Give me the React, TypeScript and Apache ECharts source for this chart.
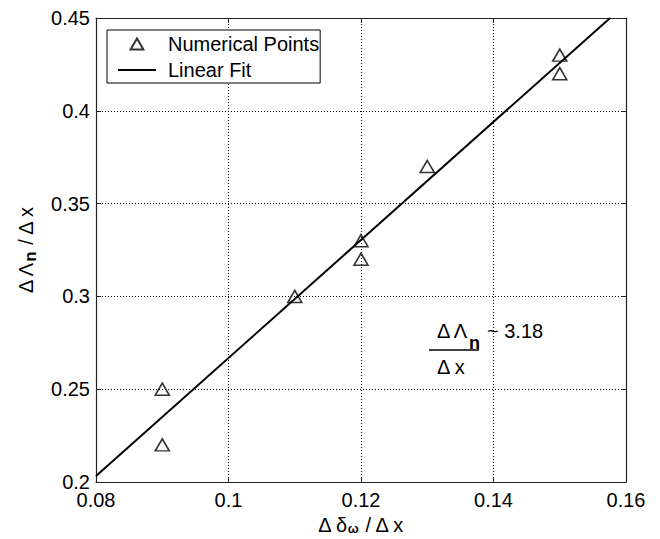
import React, { useEffect, useRef } from "react";
import * as echarts from "echarts";

const xTicks = [0.08, 0.1, 0.12, 0.14, 0.16];
const yTicks = [0.2, 0.25, 0.3, 0.35, 0.4, 0.45];
const pointsX = [0.09, 0.09, 0.11, 0.12, 0.12, 0.13, 0.15, 0.15];
const pointsY = [0.25, 0.22, 0.3, 0.33, 0.32, 0.37, 0.43, 0.42];
const fitX = [0.08, 0.1576];
const fitY = [0.2032, 0.45];
const seriesNames = ["Numerical Points", "Linear Fit"];
const slopeText = "~ 3.18";

const FONT = "Liberation Sans, Arial, Helvetica, sans-serif";
const TRI_ICON = "path://M7,0 L14,12 L0,12 Z";
const LINE_ICON = "path://M0,0 L100,0 L100,5 L0,5 Z";

export default function App() {
  const ref = useRef<HTMLDivElement>(null);
  useEffect(() => {
    document.body.style.margin = "0";
    const chart = echarts.init(ref.current!, null, { renderer: "svg" });
    const fmt = (v: number) => String(+Number(v).toFixed(2));
    const gridLine = { show: true, lineStyle: { color: "#000", width: 1, type: [1, 2] as any } };
    const axisLine = { show: true, lineStyle: { color: "#222", width: 1.2 } };
    const tick = { show: true, inside: true, length: 5, lineStyle: { color: "#222" } };
    chart.setOption({
      animation: false,
      backgroundColor: "#fff",
      textStyle: { fontFamily: FONT },
      grid: { left: 96, right: 34, top: 18, bottom: 57, outerBoundsMode: "none", containLabel: false },
      legend: {
        orient: "vertical",
        left: 107,
        top: 30,
        backgroundColor: "#fff",
        borderColor: "#000",
        borderWidth: 1,
        borderRadius: 0,
        padding: [4, 1, 3, 11],
        itemWidth: 38,
        itemHeight: 11,
        itemGap: 6,
        textStyle: { fontSize: 20, color: "#000", fontFamily: FONT, padding: [0, 0, 0, 7] },
        data: [
          { name: seriesNames[0], icon: TRI_ICON },
          { name: seriesNames[1], icon: LINE_ICON },
        ],
      },
      xAxis: [
        {
          type: "value",
          min: xTicks[0],
          max: xTicks[xTicks.length - 1],
          interval: 0.02,
          name: "Δ δ{s|ω} / Δ x",
          nameLocation: "middle",
          nameGap: 32,
          nameTextStyle: {
            fontSize: 20,
            color: "#000",
            fontFamily: FONT,
            rich: { s: { fontSize: 13, fontWeight: "bold", verticalAlign: "bottom", padding: [8, 0, 0, 0], color: "#000", fontFamily: FONT } },
          },
          axisLine,
          axisTick: tick,
          axisLabel: { fontSize: 20, color: "#000", margin: 8, formatter: fmt, fontFamily: FONT },
          splitLine: gridLine,
        },
        {
          type: "value",
          position: "top",
          min: xTicks[0],
          max: xTicks[xTicks.length - 1],
          interval: 0.02,
          axisLine,
          axisTick: tick,
          axisLabel: { show: false },
          splitLine: { show: false },
        },
      ],
      yAxis: [
        {
          type: "value",
          min: yTicks[0],
          max: yTicks[yTicks.length - 1],
          interval: 0.05,
          name: "Δ Λ{s|n} / Δ x",
          nameLocation: "middle",
          nameRotate: 90,
          nameGap: 57,
          nameTextStyle: {
            fontSize: 20,
            color: "#000",
            fontFamily: FONT,
            rich: { s: { fontSize: 17, fontWeight: "bold", verticalAlign: "bottom", padding: [10, 0, 0, 0], color: "#000", fontFamily: FONT } },
          },
          axisLine,
          axisTick: tick,
          axisLabel: { fontSize: 20, color: "#000", margin: 6, formatter: fmt, fontFamily: FONT },
          splitLine: gridLine,
        },
        {
          type: "value",
          position: "right",
          min: yTicks[0],
          max: yTicks[yTicks.length - 1],
          interval: 0.05,
          axisLine,
          axisTick: tick,
          axisLabel: { show: false },
          splitLine: { show: false },
        },
      ],
      series: [
        {
          name: seriesNames[0],
          type: "scatter",
          symbol: "triangle",
          symbolSize: [14, 12],
          itemStyle: { color: "rgba(255,255,255,0)", borderColor: "#000", borderWidth: 1.6 },
          data: pointsX.map((x, i) => [x, pointsY[i]]),
          z: 3,
        },
        {
          name: seriesNames[1],
          type: "line",
          symbol: "none",
          lineStyle: { color: "#000", width: 2 },
          itemStyle: { color: "#000" },
          data: fitX.map((x, i) => [x, fitY[i]]),
          z: 2,
        },
      ],
      graphic: [
        {
          type: "text",
          left: 437,
          top: 321,
          style: { text: "Δ Λ", fontSize: 20, fill: "#000", fontFamily: FONT },
        },
        {
          type: "text",
          left: 469,
          top: 334,
          style: { text: "n", fontSize: 18, fontWeight: "bold", fill: "#000", fontFamily: FONT },
        },
        {
          type: "text",
          left: 487,
          top: 321,
          style: { text: slopeText, fontSize: 20, fill: "#000", fontFamily: FONT },
        },
        {
          type: "line",
          shape: { x1: 429, y1: 350, x2: 479, y2: 350 },
          style: { stroke: "#000", lineWidth: 1.5 },
        },
        {
          type: "text",
          left: 437,
          top: 357,
          style: { text: "Δ x", fontSize: 20, fill: "#000", fontFamily: FONT },
        },
      ],
    });
    return () => chart.dispose();
  }, []);
  return <div ref={ref} style={{ width: 660, height: 539 }} />;
}
